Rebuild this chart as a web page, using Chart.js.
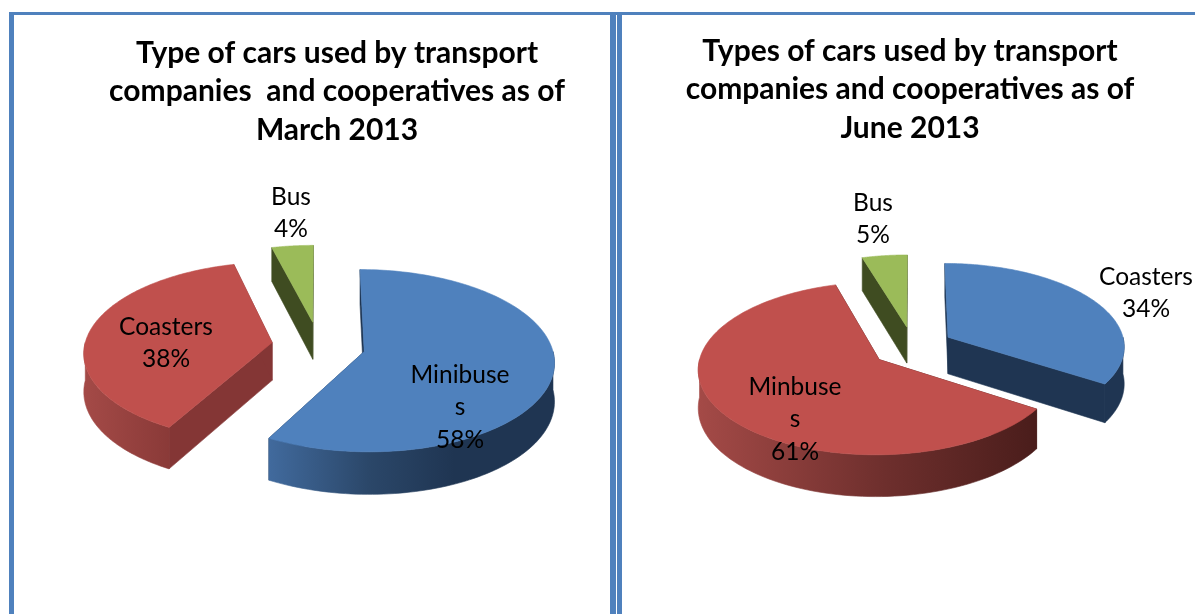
<!DOCTYPE html>
<html>
<head>
<meta charset="utf-8">
<script src="https://cdn.jsdelivr.net/npm/chart.js@4"></script>
<style>
html,body{margin:0;padding:0;background:#fff;width:1195px;height:614px;overflow:hidden}
.bar{position:absolute;background:#4f81bd}
canvas{position:absolute;top:0}
#w1,#w2{position:absolute;top:0;height:614px}
#w1{left:15px;width:644px}
#w2{left:623px;width:572px;overflow:hidden}
#w2 .in{position:absolute;left:0;top:0;width:574px;height:614px}
</style>
</head>
<body>
<div class="bar" style="left:9px;top:12px;width:5px;height:602px"></div>
<div class="bar" style="left:9px;top:12px;width:1186px;height:3px"></div>
<div class="bar" style="left:610px;top:12px;width:6px;height:602px"></div>
<div class="bar" style="left:617px;top:12px;width:5px;height:602px"></div>
<div id="w1"><canvas id="c1" width="644" height="614"></canvas></div>
<div id="w2"><div class="in"><canvas id="c2" width="574" height="614"></canvas></div></div>
<script>
const categoriesMarch = ["Minibuses", "Coasters", "Bus"];
const valuesMarch = [58, 38, 4];
const labelLinesMarch = [["Minibuse", "s"], ["Coasters"], ["Bus"]];
const titleMarch = ["Type of cars used by transport", "companies  and cooperatives as of", "March 2013"];

const categoriesJune = ["Coasters", "Minbuses", "Bus"];
const valuesJune = [34.2, 61.2, 4.6];
const labelLinesJune = [["Coasters"], ["Minbuse", "s"], ["Bus"]];
const titleJune = ["Types of cars used by transport", "companies and cooperatives as of", "June 2013"];

const sliceColors = ["#4f81bd", "#c0504d", "#9bbb59"];

const FONT = "Lato, Carlito, sans-serif";

const pie3d = {
  id: "pie3d",
  beforeDatasetDraw(chart) {
    const cfg = chart.options.plugins.pie3d;
    const ctx = chart.ctx;
    const arcs = chart.getDatasetMeta(0).data;
    const P = (X, Z, down) => {
      const s = 1 / (1 - Z / cfg.persp);
      return [cfg.cx + X * cfg.rx * s, cfg.cy + Z * cfg.ry * s + (down ? cfg.depth * s : 0)];
    };
    const poly = (pts, fill) => {
      ctx.beginPath();
      pts.forEach((p, i) => i ? ctx.lineTo(p[0], p[1]) : ctx.moveTo(p[0], p[1]));
      ctx.closePath();
      ctx.fillStyle = fill;
      ctx.strokeStyle = fill;
      ctx.lineWidth = 0.6;
      ctx.fill();
      ctx.stroke();
    };
    ctx.save();
    cfg.order.forEach(i => {
      const a = arcs[i];
      const a0 = a.startAngle, a1 = a.endAngle, mid = (a0 + a1) / 2;
      const ex = Math.cos(mid) * cfg.explodeX, ez = Math.sin(mid) * cfg.explodeZ;
      const world = t => [ex + Math.cos(t), ez + Math.sin(t)];
      const wall = cfg.faceColors[i];
      // straight cut faces
      [a0, a1].forEach(t => {
        const w = world(t);
        poly([P(ex, ez, false), P(w[0], w[1], false), P(w[0], w[1], true), P(ex, ez, true)], wall);
      });
      // rounded outer wall, front half only
      const lo = Math.max(a0, 0), hi = Math.min(a1, Math.PI);
      if (hi > lo) {
        const n = 80, top = [], bot = [];
        for (let k = 0; k <= n; k++) {
          const w = world(lo + (hi - lo) * k / n);
          top.push(P(w[0], w[1], false));
          bot.push(P(w[0], w[1], true));
        }
        const xs = top.map(p => p[0]);
        const g = ctx.createLinearGradient(Math.min(...xs), 0, Math.max(...xs), 0);
        cfg.wallStops[i].forEach(s => g.addColorStop(s[0], s[1]));
        poly(top.concat(bot.reverse()), g);
      }
      // top face
      const n = 160, pts = [P(ex, ez, false)];
      for (let k = 0; k <= n; k++) {
        const w = world(a0 + (a1 - a0) * k / n);
        pts.push(P(w[0], w[1], false));
      }
      poly(pts, a.options.backgroundColor);
    });
    ctx.restore();
    return false;
  },
  afterDatasetsDraw(chart) {
    const cfg = chart.options.plugins.pie3d;
    const ctx = chart.ctx;
    const ds = chart.data.datasets[0];
    ctx.save();
    ctx.font = "24.5px " + FONT;
    ctx.fillStyle = "#000";
    ctx.textAlign = "center";
    ctx.textBaseline = "middle";
    ds.data.forEach((v, i) => {
      const lines = cfg.labelLines[i].concat(Math.round(v) + "%");
      lines.forEach((t, k) => ctx.fillText(t, cfg.labelPos[i][0], cfg.labelPos[i][1] + k * 32.5));
    });
    ctx.restore();
  }
};

function build(id, cats, vals, title, pie) {
  return new Chart(document.getElementById(id), {
    type: "pie",
    plugins: [pie3d],
    data: { labels: cats, datasets: [{ data: vals, backgroundColor: sliceColors, borderWidth: 0 }] },
    options: {
      responsive: false,
      animation: false,
      radius: pie.rx,
      layout: { padding: { top: 0 } },
      plugins: {
        legend: { display: false },
        tooltip: { enabled: false },
        title: {
          display: true,
          text: title,
          color: "#000",
          font: { family: FONT, size: 30, weight: "bold", lineHeight: 1.283 },
          padding: { top: pie.titleTop, bottom: 0 }
        },
        pie3d: pie
      }
    }
  });
}

build("c1", categoriesMarch, valuesMarch, titleMarch, {
  cx: 303.5, cy: 345.5, rx: 187.5, ry: 89, depth: 38, persp: 10,
  explodeX: 0.25, explodeZ: 0.27,
  order: [2, 1, 0],
  labelLines: labelLinesMarch,
  labelPos: [[445, 375], [151, 327], [276, 197]],
  titleTop: 34,
  faceColors: ["#1f3552", "#843635", "#3f4c21"],
  wallStops: [
    [[0, "#416a9d"], [0.35, "#2b4769"], [0.65, "#1f3552"], [1, "#1f3552"]],
    [[0, "#a44a47"], [1, "#8a3a38"]],
    [[0, "#3f4c21"], [1, "#3f4c21"]]
  ]
});

build("c2", categoriesJune, valuesJune, titleJune, {
  cx: 289.5, cy: 347, rx: 177, ry: 83, depth: 37, persp: 10,
  explodeX: 0.231, explodeZ: 0.25,
  order: [2, 0, 1],
  labelLines: labelLinesJune,
  labelPos: [[523, 277], [172, 387], [250, 203]],
  titleTop: 32,
  faceColors: ["#1f3552", "#4a1d1b", "#3f4c21"],
  wallStops: [
    [[0, "#1f3552"], [1, "#1f3552"]],
    [[0, "#a44a47"], [0.55, "#6e2f2d"], [1, "#4a1d1b"]],
    [[0, "#3f4c21"], [1, "#3f4c21"]]
  ]
});
</script>
</body>
</html>
